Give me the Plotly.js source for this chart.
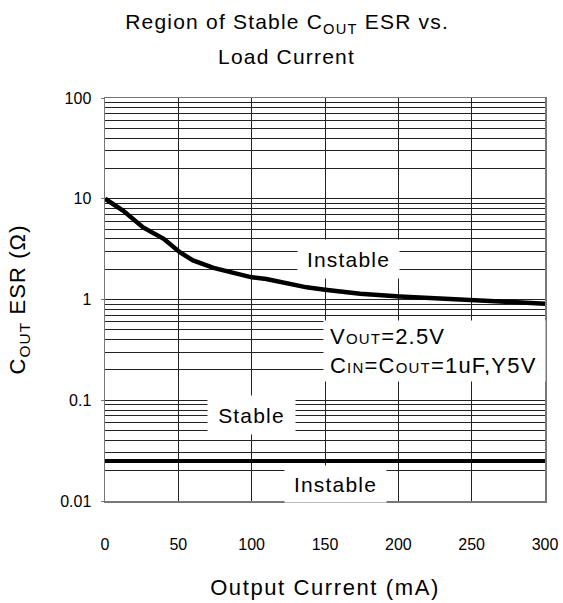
<!DOCTYPE html>
<html><head><meta charset="utf-8">
<script src="https://cdn.plot.ly/plotly-3.0.1.min.js"></script>
<style>
html,body{margin:0;padding:0;background:#fff;}
.gtitle{letter-spacing:1.2px;}
.xtitle{letter-spacing:1.6px;}
.ytitle{letter-spacing:1.1px;}
.annotation-text{letter-spacing:1.2px;}
</style>
</head><body><div id="chart" style="width:563px;height:603px;"></div>
<script>
// Output current (mA) and stable-ESR boundaries (ohm)
const currentMA = [0, 12.5, 26, 40, 51, 60, 74, 87.5, 100, 110, 126, 137.5, 150, 174, 201, 228, 250, 274, 300];
const esrUpper  = [10, 7.6, 5.2, 4.0, 2.95, 2.44, 2.06, 1.82, 1.66, 1.6, 1.43, 1.32, 1.25, 1.14, 1.07, 1.02, 1.0, 0.96, 0.91];
const lowerX    = [0, 300];
const esrLower  = [0.025, 0.025];

const xTicks    = [0, 50, 100, 150, 200, 250, 300];
const xTickText = ['0', '50', '100', '150', '200', '250', '300'];
const yTicks    = [0.01, 0.1, 1, 10, 100];
const yTickText = ['0.01', '0.1', '1', '10', '100'];
const decades   = [0.01, 0.1, 1, 10];
const minorSteps = [2, 3, 4, 5, 6, 7, 8, 9];
const yMinor = decades.flatMap(d => minorSteps.map(m => +(d * m).toPrecision(3)));

const sm = s => '<span style="font-size:15px">' + s + '</span>';

const traces = [
  {x: currentMA, y: esrUpper, type: 'scatter', mode: 'lines',
   line: {color: '#000', width: 4.5}, hoverinfo: 'skip'},
  {x: lowerX, y: esrLower, type: 'scatter', mode: 'lines',
   line: {color: '#000', width: 4}, hoverinfo: 'skip'}
];

const boxFont = {size: 21, color: '#000'};
const layout = {
  width: 563, height: 603,
  margin: {l: 105, r: 18, t: 98, b: 102, pad: 0, autoexpand: false},
  paper_bgcolor: '#fff', plot_bgcolor: '#fff',
  showlegend: false,
  font: {family: '"Liberation Sans", Arial, sans-serif', color: '#000'},
  title: {text: 'Region of Stable C<sub>OUT</sub> ESR vs.', font: {size: 21},
          x: 0.51, xanchor: 'center', y: 1 - 22 / 603, yanchor: 'middle'},
  xaxis: {
    range: [0, 300], tickmode: 'array', tickvals: xTicks, ticktext: xTickText,
    showgrid: true, gridcolor: '#222', gridwidth: 1, zeroline: false,
    showline: true, mirror: true, linecolor: '#777', linewidth: 1.5,
    ticks: '', ticklabelstandoff: 28, tickfont: {size: 16},
    automargin: true,
    title: {text: 'Output Current (mA)', font: {size: 22}, standoff: 28}
  },
  yaxis: {
    type: 'log', range: [-2, 2], tickmode: 'array', tickvals: yTicks, ticktext: yTickText,
    showgrid: true, gridcolor: '#222', gridwidth: 1, zeroline: false,
    showline: true, mirror: true, linecolor: '#777', linewidth: 1.5,
    ticks: 'outside', ticklen: 3, tickcolor: '#777', tickfont: {size: 16},
    ticklabelstandoff: 6,
    minor: {tickmode: 'array', tickvals: yMinor, showgrid: true, gridcolor: '#222', gridwidth: 1, ticks: ''},
    automargin: true,
    title: {text: 'C<sub>OUT</sub> ESR (Ω)', font: {size: 22}, standoff: 28}
  },
  annotations: [
    {text: 'Instable', x: 166, y: Math.log10(2.55), xref: 'x', yref: 'y', showarrow: false,
     bgcolor: '#fff', width: 101, height: 38, borderpad: 0, font: boxFont},
    {text: 'Stable', x: 100, y: Math.log10(0.0706), xref: 'x', yref: 'y', showarrow: false,
     bgcolor: '#fff', width: 87, height: 38, borderpad: 0, font: boxFont},
    {text: 'V' + sm('OUT') + '=2.5V<br>C' + sm('IN') + '=C' + sm('OUT') + '=1uF,Y5V',
     x: 148.6, y: Math.log10(0.62), xref: 'x', yref: 'y', xanchor: 'left', yanchor: 'top',
     align: 'left', showarrow: false, bgcolor: '#fff', width: 209, height: 48, borderpad: 6,
     font: {size: 22, color: '#000'}},
    {text: 'Instable', x: 157.2, y: Math.log10(0.0146), xref: 'x', yref: 'y', showarrow: false,
     bgcolor: '#fff', width: 101, height: 36, borderpad: 0, font: boxFont},
    {text: 'Load Current', x: 0.4136, y: 1.104, xref: 'paper', yref: 'paper', showarrow: false,
     xanchor: 'center', yanchor: 'middle', font: {size: 21, color: '#000'}}
  ]
};

Plotly.newPlot('chart', traces, layout, {staticPlot: true, displayModeBar: false});
</script>
</body></html>
